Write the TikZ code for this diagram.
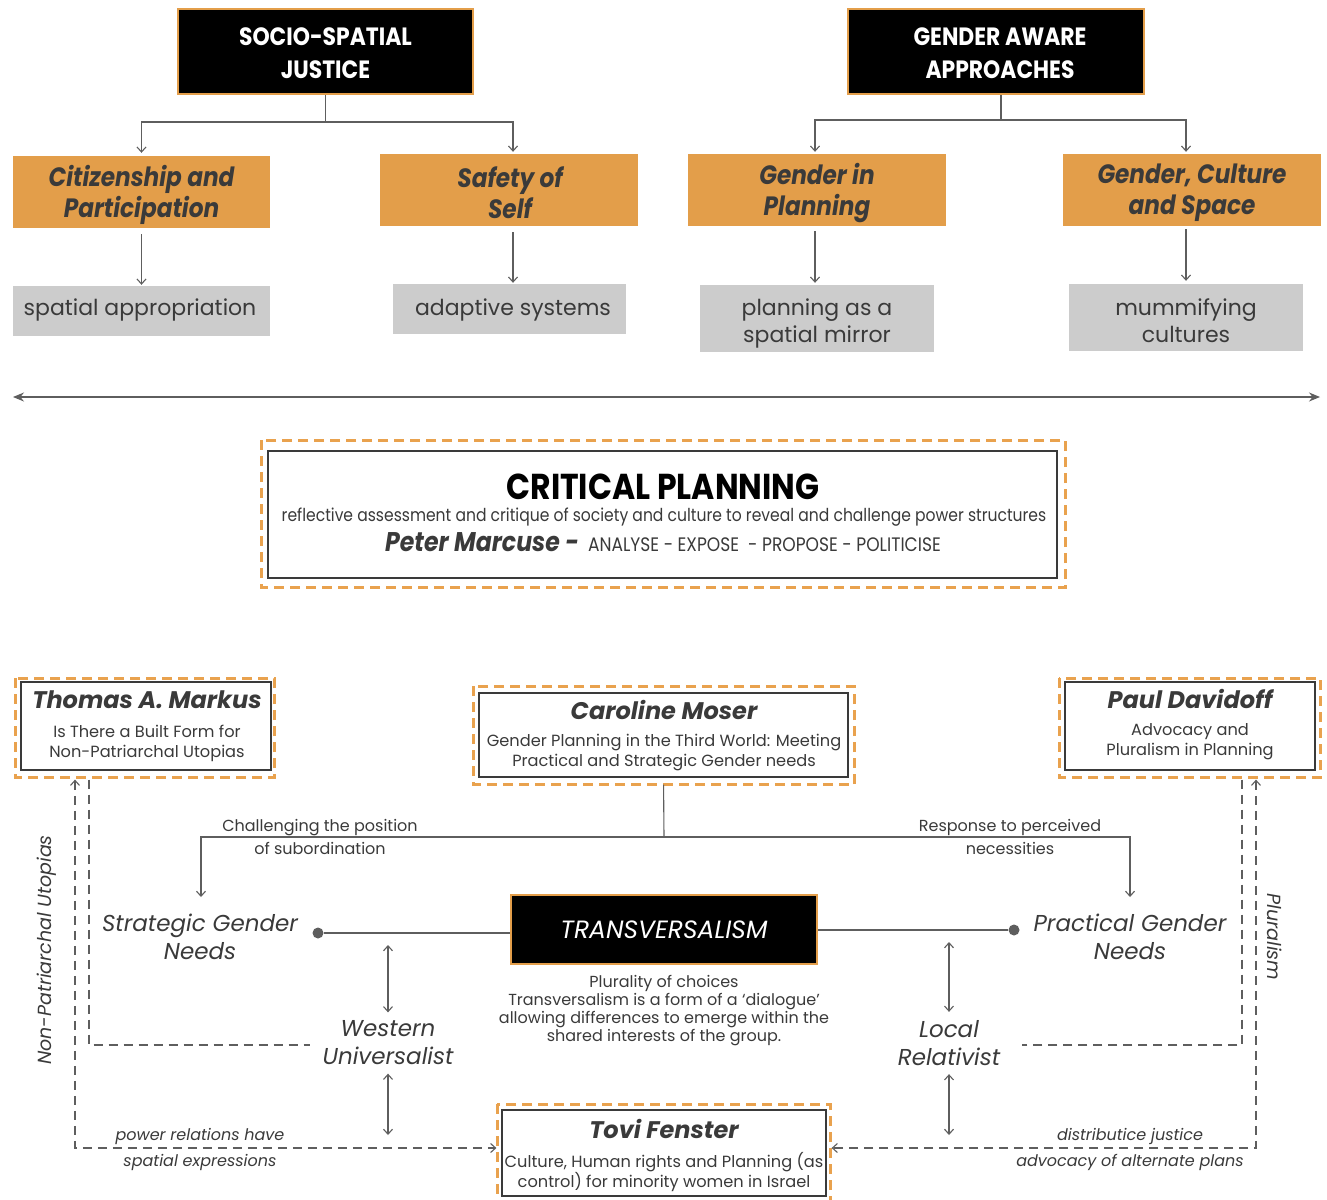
\documentclass[tikz,border=0pt]{standalone}
\usepackage{fontspec}
\setmainfont{Poppins}
\newfontfamily\condf[FakeStretch=0.875]{Poppins}
\usetikzlibrary{arrows.meta,calc}
\definecolor{orng}{HTML}{E39E4A}
\definecolor{odash}{HTML}{E9A24E}
\definecolor{gbox}{HTML}{CCCCCC}
\definecolor{txt}{HTML}{3A3A3A}
\definecolor{ln}{HTML}{5E5E5E}
\newcommand\fsz[2]{\fontsize{#1}{#2}\selectfont}
\tikzset{
  headbox/.style={draw=orng, line width=2pt, fill=black, inner sep=0pt},
  headtext/.style={text=white, align=center, font=\condf\bfseries\fsz{25}{33}},
  topicbox/.style={fill=orng, inner sep=0pt},
  topictext/.style={text=txt, align=center, font=\condf\bfseries\itshape\fsz{26.5}{31}},
  ideabox/.style={fill=gbox, inner sep=0pt},
  ideatext/.style={text=txt, align=center, font=\fsz{22}{27}},
  conn/.style={draw=ln, line width=1.1pt, -{Straight Barb[length=5pt,width=9pt]}},
  dbl/.style={draw=ln, line width=1.1pt, {Straight Barb[length=5pt,width=9pt]}-{Straight Barb[length=5pt,width=9pt]}},
  pline/.style={draw=ln, line width=1.1pt},
  authbox/.style={draw=txt, line width=1.2pt, inner sep=0pt},
  odashed/.style={draw=odash, line width=2.6pt, dash pattern=on 10pt off 6pt},
  gdash/.style={draw=ln, line width=1.1pt, dash pattern=on 9pt off 6pt},
  authtitle/.style={text=txt, font=\bfseries\itshape\fsz{24}{28}},
  authsub/.style={text=txt, align=center, font=\fsz{16.2}{20}},
  lbl/.style={text=txt, align=center, font=\fsz{16}{23}},
  ilbl/.style={text=txt, align=center, font=\itshape\fsz{16}{26}},
  need/.style={text=txt, align=center, font=\itshape\fsz{23}{28}},
  ndot/.style={circle, fill=ln, inner sep=0pt, minimum size=11pt},
}
\begin{document}
\begin{tikzpicture}[x=1pt,y=-1pt]
\fill[white] (0,0) rectangle (1327,1199);
\useasboundingbox (0,0) rectangle (1327,1199);

% ---------- top ----------
\node[headbox, minimum width=295pt, minimum height=85pt] (socio) at (325.5,51.5) {};
\node[headtext] (sociot) at (325.5,53.5) {SOCIO-SPATIAL\\JUSTICE};
\node[headbox, minimum width=296pt, minimum height=85pt] (gender) at (996,51.5) {};
\node[headtext] (gendert) at (1000,53.5) {GENDER AWARE\\APPROACHES};

\node[topicbox, minimum width=257pt, minimum height=72pt] (cit) at (141.5,192) {};
\node[topictext] (citt) at (141.5,195) {Citizenship and\\Participation};
\node[topicbox, minimum width=258pt, minimum height=72pt] (saf) at (509,190) {};
\node[topictext] (saft) at (510,192.5) {Safety of\\Self};
\node[topicbox, minimum width=258pt, minimum height=72pt] (gip) at (817,190) {};
\node[topictext] (gipt) at (817,193) {Gender in\\Planning};
\node[topicbox, minimum width=258pt, minimum height=72pt] (gcs) at (1192,190) {};
\node[topictext] (gcst) at (1192,193) {Gender, Culture\\and Space};

\node[ideabox, minimum width=257pt, minimum height=50pt] (spa) at (141.5,311) {};
\node[ideatext] (spat) at (140,310) {spatial appropriation};
\node[ideabox, minimum width=233pt, minimum height=50pt] (ada) at (509.5,309) {};
\node[ideatext] (adat) at (513,310) {adaptive systems};
\node[ideabox, minimum width=234pt, minimum height=67pt] (pam) at (817,318.5) {};
\node[ideatext] (pamt) at (817,323.5) {planning as a\\spatial mirror};
\node[ideabox, minimum width=234pt, minimum height=67pt] (mum) at (1186,317.5) {};
\node[ideatext] (mumt) at (1186,320.5) {mummifying\\cultures};

\coordinate (sj) at (325.5,122);
\coordinate (gj) at (1001,120);
\draw[pline] (socio.south) -- (sj);
\draw[conn, shorten >=3pt] (sj) -| (cit.north);
\draw[conn, shorten >=2pt] (sj) -| ([xshift=4pt]saf.north);
\draw[pline] ([xshift=5pt]gender.south) -- (gj);
\draw[conn, shorten >=2pt] (gj) -| ([xshift=-2pt]gip.north);
\draw[conn, shorten >=2pt] (gj) -| ([xshift=-6pt]gcs.north);

\draw[conn, shorten <=6pt, shorten >=1pt] (cit.south) -- (cit.south |- spa.north);
\draw[conn, shorten <=6pt, shorten >=1pt] ([xshift=4pt]saf.south) -- ([xshift=4pt]saf.south |- ada.north);
\draw[conn, shorten <=5pt, shorten >=2pt] ([xshift=-2pt]gip.south) -- ([xshift=-2pt]gip.south |- pam.north);
\draw[conn, shorten <=3pt, shorten >=3pt] (gcs.south -| mum.north) -- (mum.north);

\coordinate (axl) at (13,397);
\coordinate (axr) at (1320,397);
\draw[draw=ln, line width=1.2pt, {Stealth[length=11pt,width=9pt]}-{Stealth[length=11pt,width=9pt]}] (axl) -- (axr);

% ---------- critical planning ----------
\node[draw=txt, line width=1.2pt, minimum width=789pt, minimum height=127pt, inner sep=0pt] (cp) at (662.5,514.5) {};
\draw[odashed] ([shift={(-6,-10)}]cp.north west) rectangle ([shift={(8,9)}]cp.south east);
\node[font=\condf\bfseries\fsz{36}{38}, text=black] (cpt) at (663,487) {CRITICAL PLANNING};
\node[font=\condf\fsz{17.8}{20}, text=txt] (cps) at (664,517) {reflective assessment and critique of society and culture to reveal and challenge power structures};
\node[text=txt] (cpm) at (663,542) {{\condf\bfseries\itshape\fsz{27}{28}Peter Marcuse -}\hspace{9pt}{\condf\fsz{19.5}{20}ANALYSE - EXPOSE\ \ - PROPOSE - POLITICISE}};

% ---------- authors ----------
\node[authbox, minimum width=250pt, minimum height=88pt] (mk) at (146,726) {};
\draw[odashed] ([shift={(-5,-3)}]mk.north west) rectangle ([shift={(3,7)}]mk.south east);
\node[authtitle] (mkt) at (147,700) {Thomas A. Markus};
\node[authsub] (mks) at (147,743) {Is There a Built Form for\\Non-Patriarchal Utopias};

\node[authbox, minimum width=369pt, minimum height=84pt] (moser) at (663.5,735) {};
\draw[odashed] ([shift={(-5,-6)}]moser.north west) rectangle ([shift={(6,7)}]moser.south east);
\node[authtitle] (most) at (664,710) {Caroline Moser};
\node[authsub] (moss) at (664,753) {Gender Planning in the Third World: Meeting\\Practical and Strategic Gender needs};

\node[authbox, minimum width=250pt, minimum height=88pt] (pd) at (1190,726) {};
\draw[odashed] ([shift={(-5,-3)}]pd.north west) rectangle ([shift={(5,7)}]pd.south east);
\node[authtitle] (pdt) at (1190,699) {Paul Davidoff};
\node[authsub] (pds) at (1190,742) {Advocacy and\\Pluralism in Planning};

\node[authbox, minimum width=324pt, minimum height=86pt] (tovi) at (664,1153) {};
\draw[odashed] ([shift={(-4,-5)}]tovi.north west) rectangle ([shift={(4,8)}]tovi.south east);
\node[authtitle] (tovt) at (664,1129) {Tovi Fenster};
\node[authsub] (tovs) at (664,1172) {Culture, Human rights and Planning (as\\control) for minority women in Israel};

% ---------- transversalism ----------
\node[draw=orng, line width=2pt, fill=black, text=white, inner sep=0pt, minimum width=306pt, minimum height=69pt, font=\itshape\fsz{25}{28}] (tr) at (664,929.5) {TRANSVERSALISM};
\node[text=txt, align=center, font=\fsz{16}{18}] (trd) at (664,1011) {Plurality of choices\\Transversalism is a form of a `dialogue'\\allowing differences to emerge within the\\shared interests of the group.};

\node[need] (sgn) at (200,937) {Strategic Gender\\Needs};
\node[need] (pgn) at (1130,937) {Practical Gender\\Needs};
\node[ndot] (dl) at (318,933) {};
\node[ndot] (dr) at (1014,930) {};
\draw[pline] (dl) -- (dl -| tr.west);
\draw[pline] (dr) -- (dr -| tr.east);

\coordinate (mj) at (664,837);
\draw[pline, shorten <=7pt] (moser.south) -- (mj);
\draw[conn] (mj) -| (201,897);
\draw[conn] (mj) -| (1130,897);
\node[lbl] (chl) at (320,836.5) {Challenging the position\\of subordination};
\node[lbl] (rsp) at (1010,836.5) {Response to perceived\\necessities};

\node[need] (wu) at (388,1043) {Western\\Universalist};
\node[need] (lr) at (949,1043) {Local\\Relativist};
\coordinate (wa) at (388,945);
\coordinate (wb) at (388,1135);
\coordinate (la) at (949,942);
\coordinate (lb) at (949,1135);
\draw[dbl] (wa) -- ([yshift=5pt]wu.north);
\draw[dbl] ([yshift=-5pt]wu.south) -- (wb);
\draw[dbl] (la) -- ([yshift=5pt]lr.north);
\draw[dbl] ([yshift=-5pt]lr.south) -- (lb);

% ---------- dashed side links ----------
\coordinate (lc1) at (75,1148);
\coordinate (lc2) at (89,1045);
\coordinate (rc1) at (1256,1148);
\coordinate (rc2) at (1242,1045);
\coordinate (lc2e) at (310,1045);
\coordinate (rc2e) at (1022,1045);
\draw[gdash, {Straight Barb[length=5pt,width=9pt]}-{Straight Barb[length=5pt,width=9pt]}, shorten <=9pt, shorten >=5pt] (mk.south -| lc1) -- (lc1) -- (lc1 -| tovi.west);
\draw[gdash, shorten <=9pt] (mk.south -| lc2) -- (lc2) -- (lc2e);
\draw[gdash, {Straight Barb[length=5pt,width=9pt]}-{Straight Barb[length=5pt,width=9pt]}, shorten <=9pt, shorten >=5pt] (pd.south -| rc1) -- (rc1) -- (rc1 -| tovi.east);
\draw[gdash, shorten <=9pt] (pd.south -| rc2) -- (rc2) -- (rc2e);

\node[text=txt, font=\itshape\fsz{19}{22}, rotate=90] (npu) at (47,950) {Non-Patriarchal Utopias};
\node[text=txt, font=\itshape\fsz{19}{22}, rotate=-90] (plu) at (1275,937) {Pluralism};
\node[ilbl] (prl) at (200,1149) {power relations have\\spatial expressions};
\node[ilbl] (dsj) at (1130,1149) {distributice justice\\advocacy of alternate plans};
\end{tikzpicture}
\end{document}
